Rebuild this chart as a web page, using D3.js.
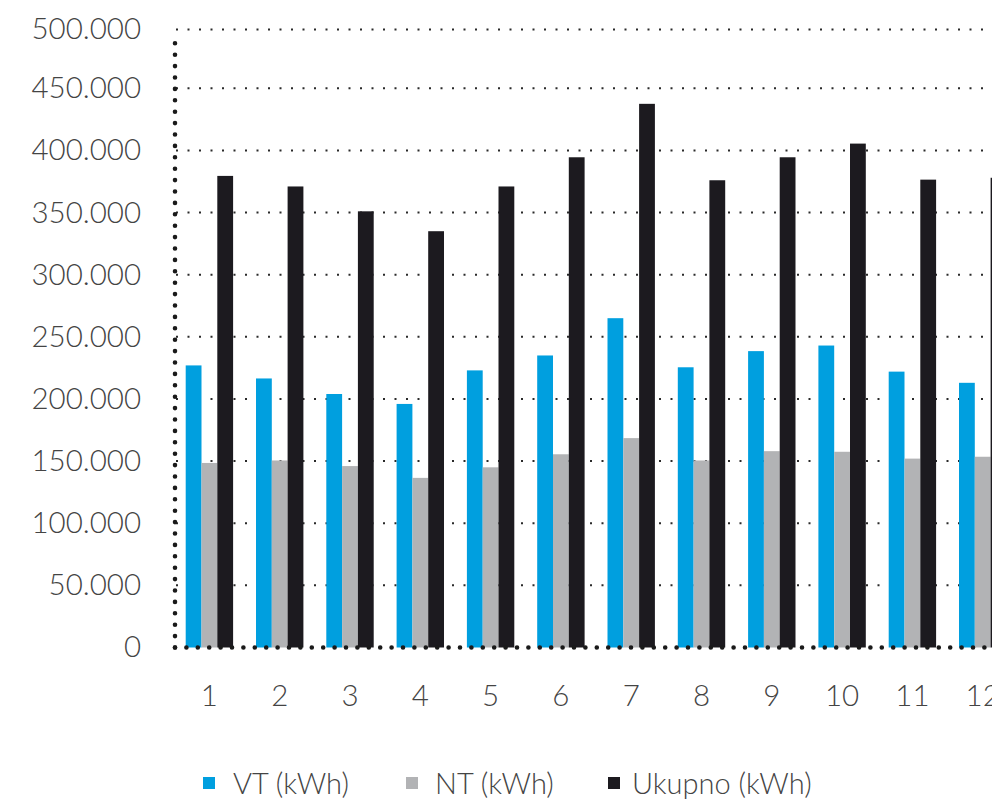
<!DOCTYPE html>
<head>
    <meta charset="utf-8">
    <title>VT / NT / Ukupno</title>
    <script src="https://d3js.org/d3.v7.min.js"></script>
</head>
<style>
body {
  margin: 0;
  background: #fff;
  font-family: "Lato", "Open Sans", sans-serif;
}
text { font-weight: 300; fill: #444; }
</style>
<body>
    <svg></svg>
</body>

<script>

    // Data (kWh per month)
    var months = ["1", "2", "3", "4", "5", "6", "7", "8", "9", "10", "11", "12"];
    var seriesNames = ["VT (kWh)", "NT (kWh)", "Ukupno (kWh)"];
    var vt = [227000, 216500, 204000, 196000, 223000, 235000, 265000, 225500, 238500, 243000, 222000, 213000];
    var nt = [148500, 150500, 146000, 136500, 145000, 155500, 168500, 150500, 158000, 157500, 152000, 153500];
    var ukupno = [379500, 371000, 351000, 335000, 371000, 394500, 437500, 376000, 394500, 405500, 376500, 378000];
    var yTicks = [0, 50000, 100000, 150000, 200000, 250000, 300000, 350000, 400000, 450000, 500000];

    var colors = ["#009fdf", "#b2b3b5", "#1c1a1f"];

    // Variables
    var width = 992;
    var height = 799;
    var left = 175, bottom = 647.5;
    var fontSize = '29.5px';

    var svg = d3.select('svg')
        .attr('width', width)
        .attr('height', height);

    // build rows from the arrays
    var rows = months.map(function (m, i) {
        return { month: m, values: [vt[i], nt[i], ukupno[i]] };
    });

    // x: one band per month, the 12th runs off the right edge
    var x0 = d3.scaleBand()
        .domain(months)
        .range([left, 1017.1])
        .paddingInner(0.3257)
        .paddingOuter(0.1522);

    var x1 = d3.scaleBand()
        .domain(d3.range(seriesNames.length))
        .range([0, x0.bandwidth()]);

    // the top gridline sits a bit lower than the regular spacing would put it
    var y = d3.scaleLinear()
        .domain([0, 450000, 500000])
        .range([bottom, 88.3, 29.5]);

    var fmt = d3.formatLocale({ decimal: ",", thousands: ".", grouping: [3], currency: ["", ""] }).format(",");

    // dotted gridlines (behind the bars)
    svg.append('g')
        .selectAll('line')
        .data(yTicks.slice(1))
        .enter().append('line')
        .attr('x1', left + 1)
        .attr('x2', width)
        .attr('y1', function (d) { return y(d); })
        .attr('y2', function (d) { return y(d); })
        .style('stroke', '#2a2a2a')
        .style('stroke-width', 2)
        .style('stroke-dasharray', '2 9.5');

    // y labels
    svg.append('g')
        .attr('transform', 'translate(' + left + ',0)')
        .call(d3.axisLeft(y).tickValues(yTicks).tickFormat(fmt).tickSize(0).tickPadding(34))
        .call(function (g) { g.select('.domain').remove(); })
        .selectAll('text')
        .style('font-family', 'Lato, sans-serif')
        .style('font-size', fontSize);

    // bars
    svg.append('g')
        .selectAll('g')
        .data(rows)
        .enter().append('g')
        .attr('transform', function (d) { return 'translate(' + x0(d.month) + ',0)'; })
        .selectAll('rect')
        .data(function (d) { return d.values; })
        .enter().append('rect')
        .attr('x', function (d, i) { return x1(i); })
        .attr('width', x1.bandwidth())
        .attr('y', function (d) { return y(d); })
        .attr('height', function (d) { return bottom - y(d); })
        .style('fill', function (d, i) { return colors[i]; });

    // thick dotted axis lines
    svg.append('line')
        .attr('x1', left).attr('x2', left)
        .attr('y1', bottom).attr('y2', 36)
        .style('stroke', '#1a1a1a')
        .style('stroke-width', 4.6)
        .style('stroke-linecap', 'round')
        .style('stroke-dasharray', '0 11.4');

    svg.append('line')
        .attr('x1', left).attr('x2', width)
        .attr('y1', bottom).attr('y2', bottom)
        .style('stroke', '#1a1a1a')
        .style('stroke-width', 4.6)
        .style('stroke-linecap', 'round')
        .style('stroke-dasharray', '0 11.4');

    // x labels
    svg.append('g')
        .attr('transform', 'translate(0,' + bottom + ')')
        .call(d3.axisBottom(x0).tickSize(0).tickPadding(38))
        .call(function (g) { g.select('.domain').remove(); })
        .selectAll('text')
        .style('font-family', 'Lato, sans-serif')
        .style('font-size', fontSize);

    // legend
    var legendBox = [203, 406, 608];
    var legendText = [233, 435, 632];
    var legend = svg.append('g')
        .selectAll('g')
        .data(seriesNames)
        .enter().append('g');

    legend.append('rect')
        .attr('x', function (d, i) { return legendBox[i]; })
        .attr('y', 777)
        .attr('width', 12).attr('height', 12)
        .style('fill', function (d, i) { return colors[i]; });

    legend.append('text')
        .attr('x', function (d, i) { return legendText[i]; })
        .attr('y', 784)
        .attr('dy', '0.35em')
        .style('font-size', '29px')
        .text(function (d) { return d; });

</script>
